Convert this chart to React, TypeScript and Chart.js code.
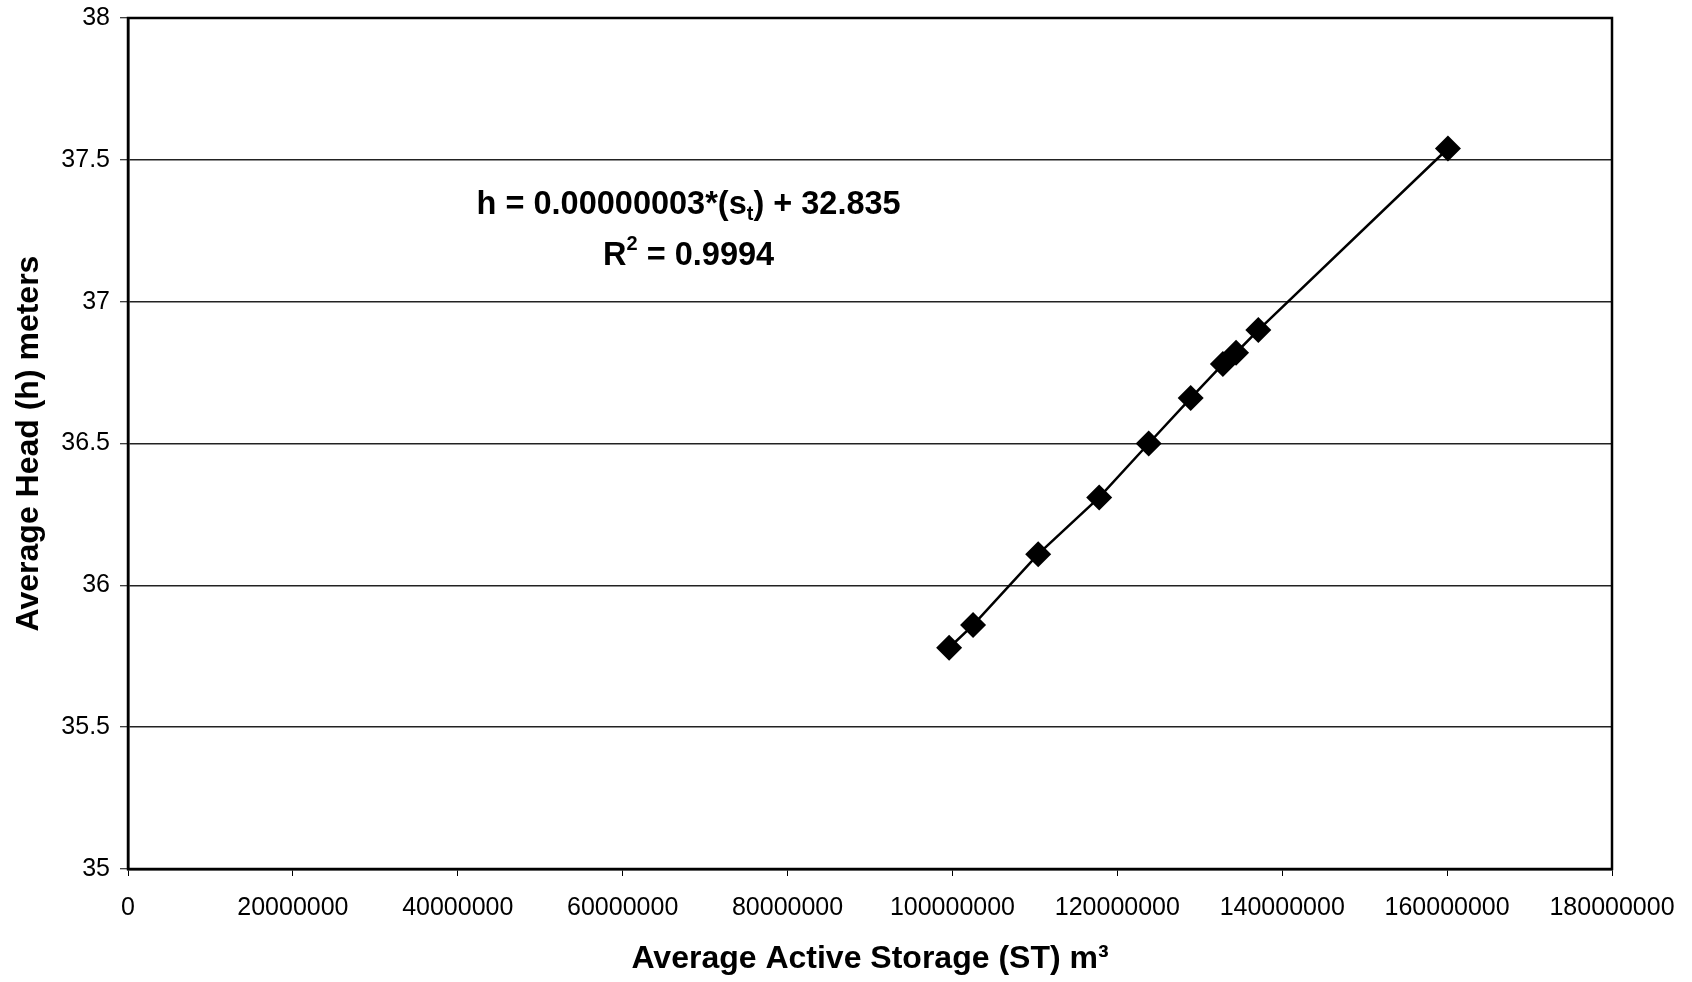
import React, { useEffect, useRef } from "react";
import { Chart, registerables } from "chart.js";

Chart.register(...registerables);

// ---- data ----
const storageM3 = [99.6e6, 102.5e6, 110.4e6, 117.8e6, 123.8e6, 128.9e6, 132.8e6, 134.4e6, 137.1e6, 160.1e6];
const headMeters = [35.78, 35.86, 36.11, 36.31, 36.5, 36.66, 36.78, 36.82, 36.9, 37.54];

const xTickValues = [0, 20000000, 40000000, 60000000, 80000000, 100000000, 120000000, 140000000, 160000000, 180000000];
const yTickValues = [35, 35.5, 36, 36.5, 37, 37.5, 38];

const xAxisTitle = "Average Active Storage (ST) m\u00B3";
const yAxisTitle = "Average Head (h) meters";

const equationParts = [
  { text: "h = 0.00000003*(s", kind: "normal" },
  { text: "t", kind: "sub" },
  { text: ") + 32.835", kind: "normal" },
];
const rSquaredParts = [
  { text: "R", kind: "normal" },
  { text: "2", kind: "sup" },
  { text: " = 0.9994", kind: "normal" },
];
const annotationAnchor = { x: 68000000, y1: 37.341, y2: 37.162 };

const FONT = "Arial, 'Liberation Sans', Helvetica, sans-serif";

function drawRich(ctx: CanvasRenderingContext2D, parts: { text: string; kind: string }[], cx: number, cy: number, size: number) {
  const mainFont = `bold ${size}px ${FONT}`;
  const smallFont = `bold ${Math.round(size * 0.62)}px ${FONT}`;
  let total = 0;
  const widths = parts.map((p) => {
    ctx.font = p.kind === "normal" ? mainFont : smallFont;
    const w = ctx.measureText(p.text).width;
    total += w;
    return w;
  });
  let x = cx - total / 2;
  ctx.textBaseline = "middle";
  ctx.textAlign = "left";
  ctx.fillStyle = "#000";
  parts.forEach((p, i) => {
    ctx.font = p.kind === "normal" ? mainFont : smallFont;
    let dy = 0;
    if (p.kind === "sub") dy = size * 0.3;
    if (p.kind === "sup") dy = -size * 0.35;
    ctx.fillText(p.text, x, cy + dy);
    x += widths[i];
  });
}

const framePlugin = {
  id: "frame",
  afterDatasetsDraw(chart: any) {
    const { ctx, chartArea: a } = chart;
    ctx.save();
    ctx.strokeStyle = "#000";
    ctx.lineWidth = 2.5;
    ctx.strokeRect(a.left, a.top, a.right - a.left, a.bottom - a.top);
    ctx.restore();
  },
};

const annotationPlugin = {
  id: "annotation",
  afterDraw(chart: any) {
    const { ctx } = chart;
    const xs = chart.scales.x;
    const ys = chart.scales.y;
    ctx.save();
    const cx = xs.getPixelForValue(annotationAnchor.x);
    drawRich(ctx, equationParts, cx, ys.getPixelForValue(annotationAnchor.y1), 32.5);
    drawRich(ctx, rSquaredParts, cx, ys.getPixelForValue(annotationAnchor.y2), 32.5);
    ctx.restore();
  },
};

export default function App() {
  const ref = useRef<HTMLCanvasElement | null>(null);

  useEffect(() => {
    if (!ref.current) return;
    const points = storageM3.map((s, i) => ({ x: s, y: headMeters[i] }));
    const chart = new Chart(ref.current, {
      type: "scatter",
      data: {
        datasets: [
          {
            data: points,
            showLine: true,
            borderColor: "#000",
            borderWidth: 2.5,
            backgroundColor: "#000",
            pointStyle: "rectRot",
            pointRadius: 13,
            pointBorderWidth: 0,
            pointBackgroundColor: "#000",
          },
        ],
      },
      options: {
        responsive: false,
        animation: false,
        layout: { padding: { left: 0, top: 18, right: 80, bottom: 0 } },
        plugins: {
          legend: { display: false },
          tooltip: { enabled: false },
        },
        scales: {
          x: {
            type: "linear",
            min: 0,
            max: 180000000,
            afterBuildTicks: (scale: any) => {
              scale.ticks = xTickValues.map((v) => ({ value: v }));
            },
            afterFit: (scale: any) => {
              scale.height = 113;
            },
            grid: {
              drawOnChartArea: false,
              drawTicks: true,
              tickLength: 7,
              tickColor: "#000",
              tickWidth: 1,
            },
            border: { display: true, color: "#000", width: 2.5 },
            ticks: {
              color: "#000",
              padding: 17,
              maxRotation: 0,
              autoSkip: false,
              font: { family: FONT, size: 25 },
              callback: (v: any) => String(v),
            },
            title: {
              display: true,
              text: xAxisTitle,
              color: "#000",
              font: { family: FONT, size: 32, weight: "bold" },
              padding: { top: 0, bottom: 4 },
            },
          },
          y: {
            type: "linear",
            min: 35,
            max: 38,
            afterBuildTicks: (scale: any) => {
              scale.ticks = yTickValues.map((v) => ({ value: v }));
            },
            afterFit: (scale: any) => {
              scale.width = 128;
              scale.paddingTop = 0;
              scale.paddingBottom = 0;
            },
            grid: {
              drawOnChartArea: true,
              color: "#222",
              lineWidth: 1.5,
              drawTicks: true,
              tickLength: 8,
              tickColor: "#000",
              tickWidth: 1,
            },
            border: { display: true, color: "#000", width: 2.5 },
            ticks: {
              color: "#000",
              padding: 10,
              autoSkip: false,
              font: { family: FONT, size: 25 },
              callback: (v: any) => String(v),
            },
            title: {
              display: true,
              text: yAxisTitle,
              color: "#000",
              font: { family: FONT, size: 32, weight: "bold" },
              padding: { top: 10, bottom: 0 },
            },
          },
        },
      },
      plugins: [framePlugin, annotationPlugin],
    } as any);
    return () => chart.destroy();
  }, []);

  return (
    <div style={{ position: "absolute", left: 0, top: 0, width: 1692, height: 982, background: "#fff" }}>
      <canvas ref={ref} width={1692} height={982} style={{ display: "block" }} />
    </div>
  );
}
